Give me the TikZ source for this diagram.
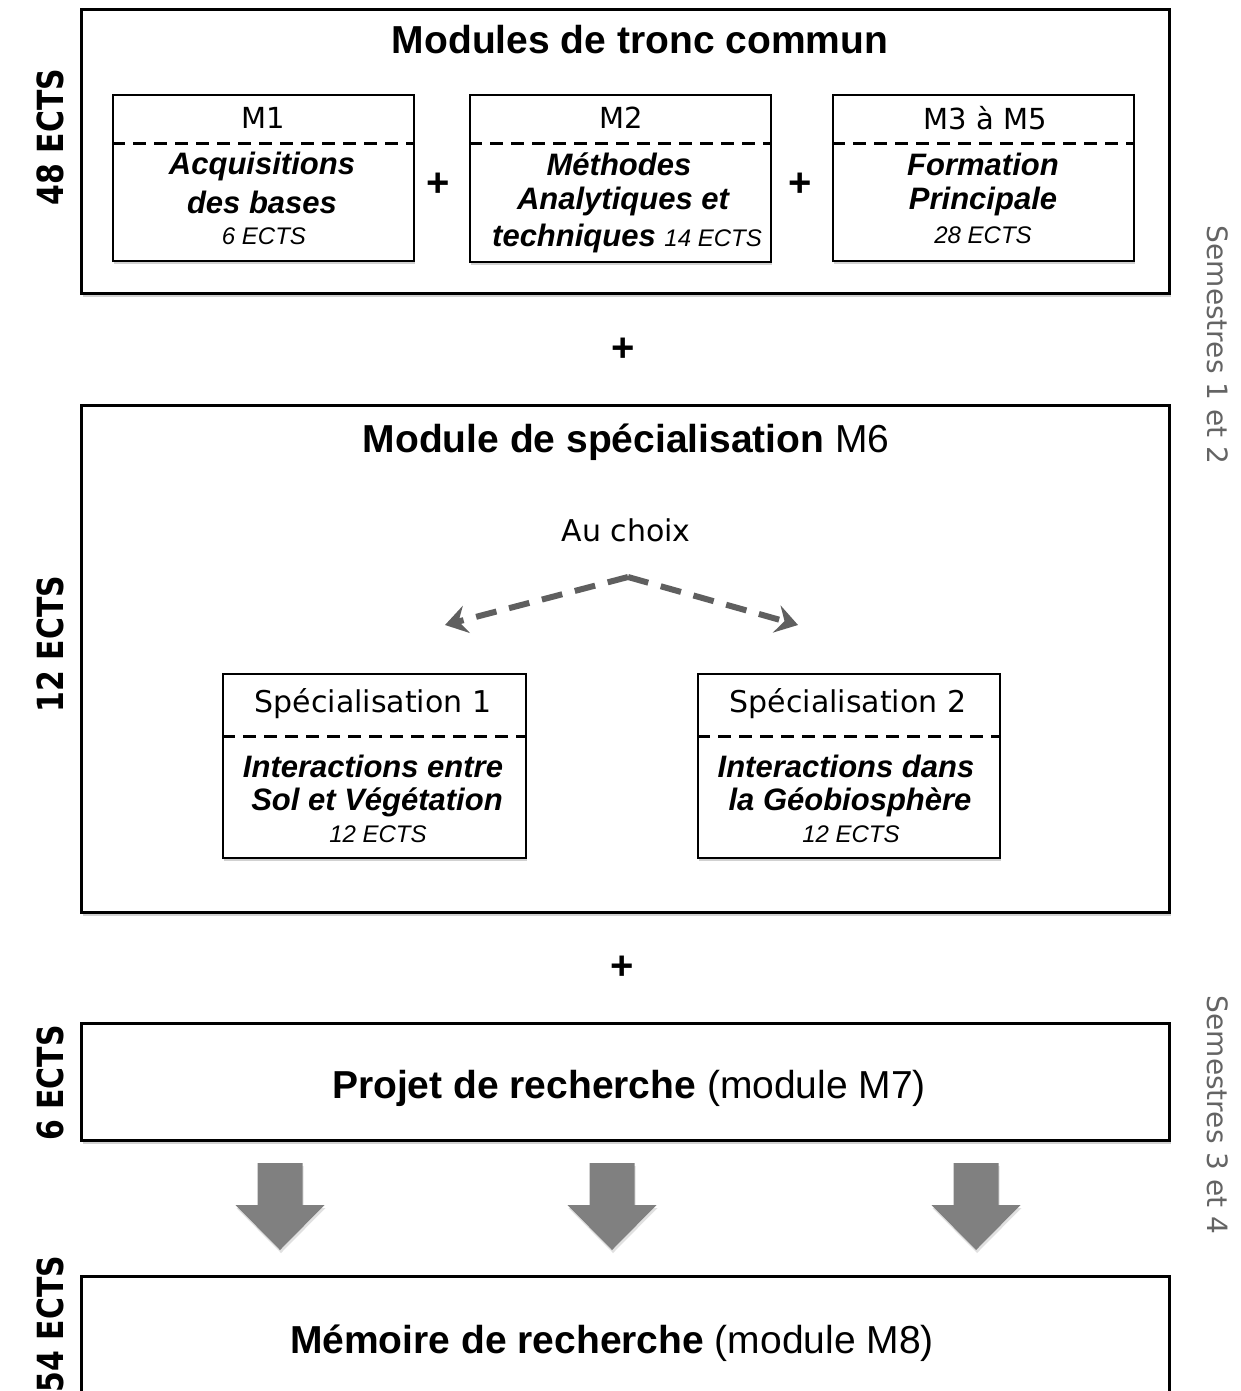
\documentclass[tikz,border=0pt]{standalone}
\usepackage{fontspec}
\setmainfont{Liberation Sans}
\newfontfamily\verd{DejaVu Sans}
\usetikzlibrary{arrows.meta,shadows}
\definecolor{dgray}{RGB}{95,95,95}
\definecolor{agray}{RGB}{128,128,128}
\definecolor{sgray}{RGB}{100,100,100}
\newcommand{\fs}[1]{\fontsize{#1}{#1}\selectfont}
\newcommand{\blockarrow}[2]{% x, top y
  \fill[agray, drop shadow={shadow xshift=1pt, shadow yshift=-3pt, fill=black!30, opacity=0.4}]
    (#1-22.5,#2) -- (#1+22.5,#2) -- (#1+22.5,#2+42) -- (#1+44.5,#2+42)
    -- (#1,#2+87) -- (#1-44.5,#2+42) -- (#1-22.5,#2+42) -- cycle;}
\begin{document}
\begin{tikzpicture}[x=1pt,y=-1pt,
  bigbox/.style={draw, line width=3pt, fill=white, anchor=north west, inner sep=0pt,
     drop shadow={shadow xshift=1pt, shadow yshift=-3pt, fill=black!40, opacity=0.45}},
  subbox/.style={draw, line width=2.2pt, fill=white, anchor=north west, inner sep=0pt,
     drop shadow={shadow xshift=1pt, shadow yshift=-3pt, fill=black!40, opacity=0.45}},
  divider/.style={line width=3pt, dash pattern=on 13pt off 8pt},
  hdr/.style={font=\verd\fs{29}, inner sep=0pt},
  body/.style={font=\fs{31}\bfseries\itshape, align=center, inner sep=0pt},
  title/.style={font=\fs{39}, inner sep=0pt},
  plus/.style={font=\fs{40}\bfseries, inner sep=0pt},
  ects/.style={font=\verd\bfseries\fs{36}, rotate=90, inner sep=0pt},
  sem/.style={font=\verd\fs{28}, text=sgray, rotate=-90, inner sep=0pt},
  darrow/.style={dgray, line width=6pt, dash pattern=on 21pt off 13pt, -{Stealth[length=22pt,width=28pt,inset=8pt]}}
]
\clip (0,0) rectangle (1241,1391);
\useasboundingbox (0,0) rectangle (1241,1391);

% ---------- Box 1 ----------
\node[bigbox, minimum width=1088pt, minimum height=284pt] (tronc) at (80,8) {};
\node[title] (t1) at (640,40) {\bfseries Modules de tronc commun};

\node[subbox, minimum width=301pt, minimum height=166pt] (m1) at (112,94) {};
\node[subbox, minimum width=301pt, minimum height=167pt] (m2) at (469,94) {};
\node[subbox, minimum width=301pt, minimum height=166pt] (m3) at (832,94) {};
\draw[divider] (112,144) -- (413,144);
\draw[divider] (469,144) -- (770,144);
\draw[divider] (832,144) -- (1133,144);

\node[hdr] (m1h) at (263,118) {M1};
\node[hdr] (m2h) at (621,118) {M2};
\node[hdr] (m3h) at (985,118) {M3 à M5};

\node[body] (m1b) at (262,166) {Acquisitions};
\node[body] (m1c) at (262,202) {des bases};
\node[inner sep=0pt, font=\fs{24}\itshape] (m1d) at (264,236) {6 ECTS};

\node[body] (m2b) at (619,164) {Méthodes};
\node[body] (m2c) at (623,201) {Analytiques et};
\node[inner sep=0pt] (m2d) at (627,238) {{\fs{31}\bfseries\itshape techniques }{\fs{24}\itshape 14 ECTS}};

\node[body] (m3b) at (983,164) {Formation};
\node[body] (m3c) at (983,201) {Principale};
\node[inner sep=0pt, font=\fs{24}\itshape] (m3d) at (983,235) {28 ECTS};

\node[plus] (p1) at (438,185) {+};
\node[plus] (p2) at (800,185) {+};
\node[plus] (p3) at (623,350) {+};

% ---------- Box 2 ----------
\node[bigbox, minimum width=1088pt, minimum height=507pt] (spec) at (80,404) {};
\node[title] (t2) at (626,442) {\bfseries Module de spécialisation\mdseries{} M6};
\node[hdr, font=\verd\fs{30}] (choix) at (626,530) {Au choix};
\coordinate (apex) at (628,577);
\coordinate (lt) at (445,625);
\coordinate (rt) at (798,625);
\draw[darrow] (apex) -- (lt);
\draw[darrow] (apex) -- (rt);

\node[subbox, minimum width=303pt, minimum height=184pt] (s1) at (222,673) {};
\node[subbox, minimum width=302pt, minimum height=184pt] (s2) at (697,673) {};
\draw[divider] (222,736) -- (525,736);
\draw[divider] (697,736) -- (999,736);
\node[hdr, font=\verd\fs{30}] (s1h) at (373,704) {Spécialisation 1};
\node[hdr, font=\verd\fs{30}] (s2h) at (848,704) {Spécialisation 2};
\node[body] (s1b) at (373,766) {Interactions entre};
\node[body] (s1c) at (377,802) {Sol et Végétation};
\node[inner sep=0pt, font=\fs{24}\itshape] (s1d) at (378,834) {12 ECTS};
\node[body] (s2b) at (846,766) {Interactions dans};
\node[body] (s2c) at (850,802) {la Géobiosphère};
\node[inner sep=0pt, font=\fs{24}\itshape] (s2d) at (851,834) {12 ECTS};

\node[plus] (p4) at (622,968) {+};

% ---------- Box 3 & 4 ----------
\node[bigbox, minimum width=1088pt, minimum height=117pt] (proj) at (80,1022) {};
\node[title] (t3) at (629,1088) {\bfseries Projet de recherche\mdseries{} (module M7)};
\node[bigbox, minimum width=1088pt, minimum height=160pt] (mem) at (80,1275) {};
\node[title] (t4) at (612,1343) {\bfseries Mémoire de recherche\mdseries{} (module M8)};

\blockarrow{280}{1163}
\blockarrow{612}{1163}
\blockarrow{976}{1163}

% ---------- side labels ----------
\node[ects] (e1) at (50,137) {\scalebox{0.83}[1]{48 ECTS}};
\node[ects] (e2) at (50,644) {\scalebox{0.83}[1]{12 ECTS}};
\node[ects] (e3) at (50,1083) {\scalebox{0.83}[1]{6 ECTS}};
\node[ects] (e4) at (50,1324) {\scalebox{0.83}[1]{54 ECTS}};
\node[sem] (sem1) at (1218,345) {Semestres 1 et 2};
\node[sem] (sem2) at (1218,1115) {Semestres 3 et 4};
\end{tikzpicture}
\end{document}
